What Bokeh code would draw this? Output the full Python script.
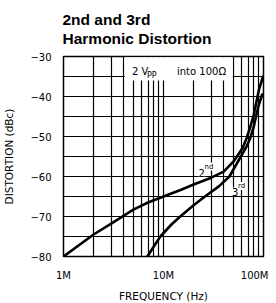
from bokeh.plotting import figure
from bokeh.models import Range1d, FixedTicker, Label, BoxAnnotation, Title
from bokeh.embed import file_html
from bokeh.resources import INLINE

# ---- data ----
freq_2nd_mhz = [1, 2, 3, 5, 7, 10, 15, 20, 30, 40, 50, 56, 62, 68, 74, 80, 90, 99]
dist_2nd_dbc = [-80, -74.5, -71.8, -68.3, -66.5, -65.0, -63.3, -62.0, -60.3, -58.8,
                -56.3, -54.5, -52.8, -50.3, -47.5, -44.5, -38.3, -35.0]
freq_3rd_mhz = [6.9, 8, 9.3, 12, 14.7, 20, 26, 36, 45.6, 52, 61, 68, 74, 80, 85, 90, 97]
dist_3rd_dbc = [-80, -77.5, -75, -72, -70, -67.2, -65, -62.4, -60, -57.5, -54.5,
                -52.4, -50.3, -47.5, -44.5, -42, -39.5]

x_tick_values = [1e6, 1e7, 1e8]
x_tick_labels = ["1M", "10M", "100M"]
y_tick_values = [-80, -70, -60, -50, -40, -30]
y_tick_labels = ["\u221280", "\u221270", "\u221260", "\u221250", "\u221240", "\u221230"]
y_grid_values = [-75, -70, -65, -60, -55, -50, -45, -40, -35]
x_grid_values = [m * 10 ** e for e in (6, 7) for m in range(2, 10)] + [1e7]
title_lines = ["2nd and 3rd", "Harmonic Distortion"]

# ---- figure ----
FONT = "DejaVu Sans"
p = figure(frame_width=200, frame_height=200, x_axis_type="log",
           x_range=Range1d(1e6, 1e8), y_range=Range1d(-80, -30),
           output_backend="svg", toolbar_location=None,
           min_border_left=55, min_border_right=5, min_border_top=49, min_border_bottom=38)
p.background_fill_color = "white"
p.border_fill_color = "white"
p.outline_line_color = "black"
p.outline_line_width = 1.5

for ax in (p.xaxis[0], p.yaxis[0]):
    ax.axis_line_color = None
    ax.major_tick_line_color = None
    ax.minor_tick_line_color = None
    ax.major_label_text_font = FONT
    ax.major_label_text_font_size = "10px"
    ax.major_label_text_color = "black"
    ax.axis_label_text_font = FONT
    ax.axis_label_text_font_size = "10.5px"
    ax.axis_label_text_font_style = "normal"
    ax.axis_label_text_color = "black"

p.xaxis.ticker = FixedTicker(ticks=x_tick_values)
p.xaxis.major_label_overrides = {v: l for v, l in zip(x_tick_values, x_tick_labels)}
p.xaxis.major_label_standoff = 7
p.xaxis.axis_label = "FREQUENCY (Hz)"
p.xaxis.axis_label_standoff = 6

p.yaxis.ticker = FixedTicker(ticks=y_tick_values)
p.yaxis.major_label_overrides = {v: l for v, l in zip(y_tick_values, y_tick_labels)}
p.yaxis.major_label_standoff = 6
p.yaxis.axis_label = "DISTORTION (dBc)"
p.yaxis.axis_label_standoff = 12

p.xgrid.ticker = FixedTicker(ticks=x_grid_values)
p.ygrid.ticker = FixedTicker(ticks=y_grid_values)
for g in (p.xgrid[0], p.ygrid[0]):
    g.grid_line_color = "black"
    g.grid_line_width = 1.2
    g.grid_line_alpha = 1.0

# ---- title (two lines) ----
p.add_layout(Title(text="\n".join(title_lines), align="left", offset=-1, standoff=18,
                   text_font="Liberation Sans", text_font_size="15.5px",
                   text_font_style="bold", text_color="black", text_line_height=1.12),
             "above")

# ---- curves ----
p.line([f * 1e6 for f in freq_2nd_mhz], dist_2nd_dbc, line_color="black", line_width=2.6,
       line_join="round", line_cap="round")
p.line([f * 1e6 for f in freq_3rd_mhz], dist_3rd_dbc, line_color="black", line_width=2.6,
       line_join="round", line_cap="round")


# ---- annotations (positions measured in reference pixels) ----
def fx(xpage):
    return 10 ** (6 + (xpage - 63) / 100.0)


def fy(ypage):
    return -30 - (ypage - 57) / 4.0


p.add_layout(BoxAnnotation(left=fx(124.2), right=fx(232.2), top=fy(57.8), bottom=fy(81),
                           fill_color="white", fill_alpha=1.0, line_color=None))


def lab(text, xpage, ypage, size, font=FONT, style="normal", bg=None):
    kw = {}
    if bg:
        kw = dict(background_fill_color=bg, background_fill_alpha=1.0)
    p.add_layout(Label(x=fx(xpage), y=fy(ypage), text=text, text_font=font,
                       text_font_size=size, text_font_style=style, text_color="black",
                       text_baseline="alphabetic", text_align="left", **kw))


lab("2 V", 131.5, 72, "10px")
lab("PP", 146.5, 75.5, "8px")
lab("into 100\u03a9", 176.5, 72, "10px")

lab("2", 198, 173, "10px", bg="white")
lab("nd", 204, 167, "7px", bg="white")
lab("3", 231.5, 192, "10px", bg="white")
lab("rd", 237.5, 186.5, "7px", bg="white")

open("out.html", "w").write(file_html(p, INLINE))
